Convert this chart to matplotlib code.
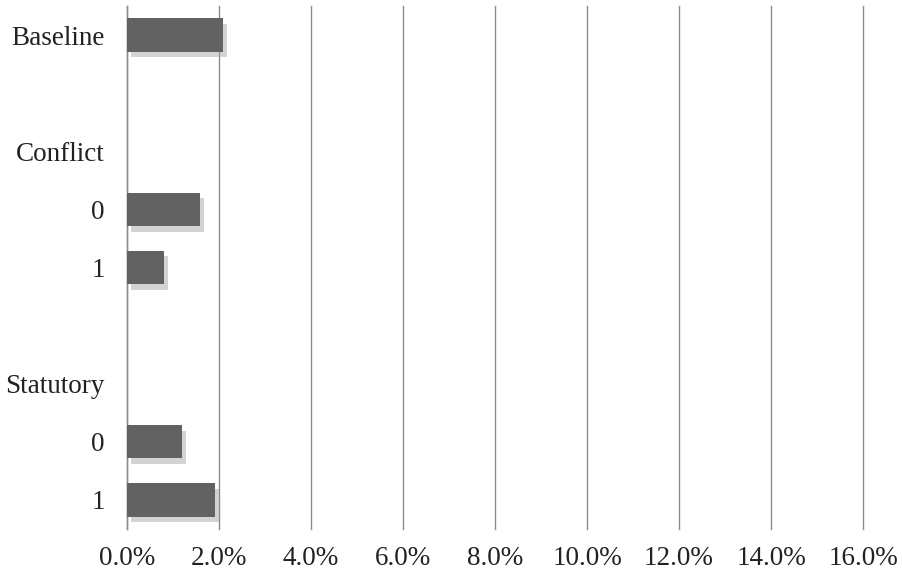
import matplotlib.pyplot as plt
import matplotlib.patheffects as pe
import numpy as np

# rows top to bottom; group headers have no bar
labels = ["Baseline", "", "Conflict", "0", "1", "", "Statutory", "0", "1"]
values = [2.09, np.nan, np.nan, 1.59, 0.80, np.nan, np.nan, 1.20, 1.91]
xticks = [0, 2, 4, 6, 8, 10, 12, 14, 16]
xticklabels = ["%.1f%%" % t for t in xticks]

plt.rcParams['font.family'] = ['Liberation Serif', 'DejaVu Serif']

fig = plt.figure(figsize=(9.02, 5.76), dpi=100)
ax = fig.add_axes([127 / 902, 1 - 529 / 576, (863 - 127) / 902, (529 - 6) / 576])

y = np.arange(len(labels))
vals = np.array(values)
mask = ~np.isnan(vals)
bars = ax.barh(y[mask], vals[mask], height=0.57, color='#626262', zorder=3)
for b in bars:
    b.set_path_effects([pe.SimplePatchShadow(offset=(3, -4), shadow_rgbFace='#a8a8a8', alpha=0.5),
                        pe.Normal()])

ax.set_ylim(len(labels) - 0.5, -0.5)
ax.set_xlim(0, 16)
ax.set_yticks(y)
ax.set_yticklabels(labels, fontsize=19.5, color='#222222')
ax.set_xticks(xticks)
ax.set_xticklabels(xticklabels, fontsize=19.5, color='#222222')
ax.tick_params(axis='both', length=0)
ax.tick_params(axis='y', pad=16)
ax.tick_params(axis='x', pad=12)

ax.xaxis.grid(True, color='#8c8c8c', linewidth=1.0, zorder=0)
for gl in ax.get_xgridlines():
    gl.set_clip_on(False)
for s in ['top', 'right', 'bottom']:
    ax.spines[s].set_visible(False)
ax.spines['left'].set_color('#8c8c8c')
ax.spines['left'].set_linewidth(1.0)

fig.savefig('out.png', dpi=100)
